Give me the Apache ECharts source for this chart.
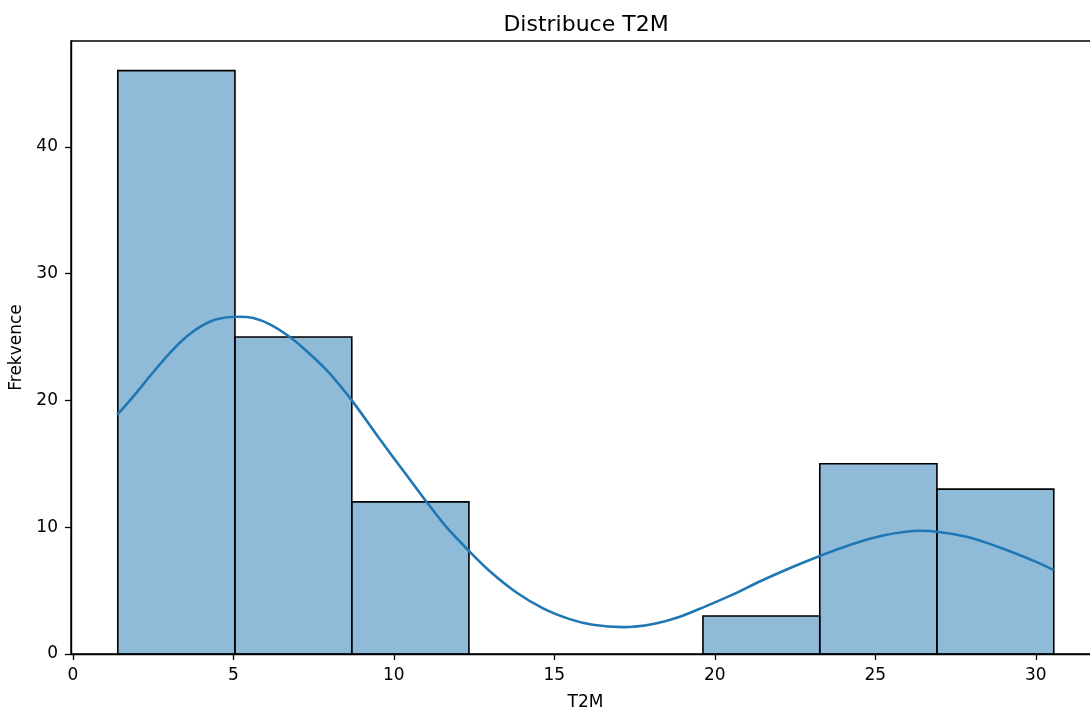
<!DOCTYPE html>
<html>
<head>
<meta charset="utf-8">
<script src="https://cdn.jsdelivr.net/npm/echarts@6/dist/echarts.min.js"></script>
<style>
  html, body { margin: 0; padding: 0; background: #fff; }
  #chart { width: 1090px; height: 709px; }
</style>
</head>
<body>
<div id="chart"></div>
<script>
// Histogram bins (edges) and counts
const binEdges = [1.40, 5.05, 8.69, 12.34, 15.98, 19.63, 23.27, 26.92, 30.56];
const counts = [46, 25, 12, 0, 0, 3, 15, 13];
// KDE curve samples
const kdeX = [1.38, 1.88, 2.40, 2.92, 3.44, 3.96, 4.48, 5.10, 5.62, 6.14, 6.76, 7.28, 7.90, 8.69, 9.56, 10.40, 11.04, 11.64, 12.35, 13.00, 13.82, 14.65, 15.48, 16.20, 17.14, 18.08, 18.91, 19.64, 20.57, 21.40, 22.44, 23.27, 24.20, 25.24, 26.39, 27.84, 28.88, 29.92, 30.56];
const kdeY = [18.85, 20.3, 21.9, 23.45, 24.8, 25.8, 26.4, 26.6, 26.5, 26.0, 25.0, 23.9, 22.4, 20.0, 16.95, 14.1, 11.93, 10.0, 8.1, 6.5, 4.85, 3.6, 2.75, 2.3, 2.12, 2.37, 2.94, 3.68, 4.7, 5.72, 6.88, 7.73, 8.6, 9.35, 9.72, 9.25, 8.4, 7.36, 6.62];
// Tick labels
const xTicks = [0, 5, 10, 15, 20, 25, 30];
const yTicks = [0, 10, 20, 30, 40];

const histData = counts.map((c, i) => [binEdges[i], binEdges[i + 1], c]);
const kdeData = kdeX.map((x, i) => [x, kdeY[i]]);

const FONT = 'DejaVu Sans';
const chart = echarts.init(document.getElementById('chart'), null, { renderer: 'canvas' });

chart.setOption({
  animation: false,
  backgroundColor: '#ffffff',
  textStyle: { fontFamily: FONT },
  title: {
    text: 'Distribuce T2M',
    left: 581,
    textAlign: 'center',
    top: 9,
    textStyle: { fontFamily: FONT, fontSize: 22, fontWeight: 'normal', color: '#000' }
  },
  grid: {
    left: 71, top: 41, width: 1029, height: 613,
    show: true, borderColor: '#000', borderWidth: 1.4, backgroundColor: 'transparent',
    outerBoundsMode: 'none', containLabel: false
  },
  xAxis: {
    type: 'value',
    min: -0.0575,
    max: 32.0,
    name: 'T2M',
    nameLocation: 'middle',
    nameGap: 40,
    nameTextStyle: { fontFamily: FONT, fontSize: 17, color: '#000' },
    axisLine: { show: true, onZero: false, lineStyle: { color: '#000', width: 1.4 } },
    axisTick: { show: true, length: 6, customValues: xTicks, lineStyle: { color: '#000', width: 1.3 } },
    axisLabel: { customValues: xTicks, fontFamily: FONT, fontSize: 17, color: '#000', margin: 13 },
    splitLine: { show: false }
  },
  yAxis: {
    type: 'value',
    min: 0,
    max: 48.34,
    name: 'Frekvence',
    nameLocation: 'middle',
    nameRotate: 90,
    nameGap: 39,
    nameTextStyle: { fontFamily: FONT, fontSize: 17, color: '#000' },
    axisLine: { show: true, onZero: false, lineStyle: { color: '#000', width: 1.4 } },
    axisTick: { show: true, length: 6, customValues: yTicks, lineStyle: { color: '#000', width: 1.3 } },
    axisLabel: { customValues: yTicks, fontFamily: FONT, fontSize: 17, color: '#000', margin: 13 },
    splitLine: { show: false }
  },
  series: [
    {
      type: 'custom',
      data: histData,
      encode: { x: [0, 1], y: 2 },
      z: 2,
      renderItem: function (params, api) {
        const c = api.value(2);
        if (!c) return { type: 'group', children: [] };
        const p0 = api.coord([api.value(0), c]);
        const p1 = api.coord([api.value(1), 0]);
        return {
          type: 'rect',
          shape: { x: p0[0], y: p0[1], width: p1[0] - p0[0], height: p1[1] - p0[1] },
          style: { fill: 'rgba(31,119,180,0.5)', stroke: '#000', lineWidth: 1.6 }
        };
      }
    },
    {
      type: 'line',
      data: kdeData,
      smooth: 0.3,
      showSymbol: false,
      symbol: 'none',
      z: 3,
      lineStyle: { color: '#1f77b4', width: 2.6 },
      itemStyle: { color: '#1f77b4' }
    }
  ]
});
</script>
</body>
</html>
